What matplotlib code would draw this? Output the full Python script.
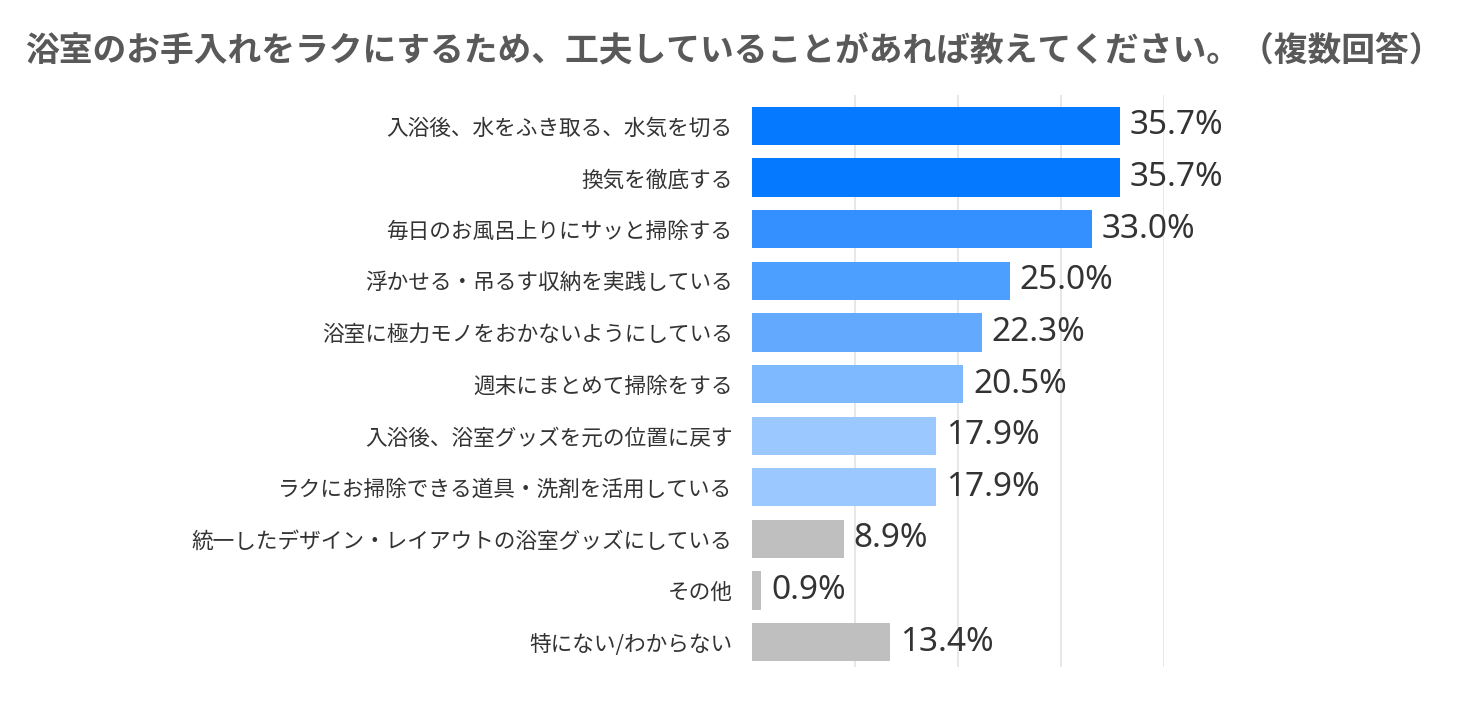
import matplotlib
matplotlib.use("Agg")
import matplotlib.pyplot as plt

plt.rcParams['font.family'] = ['Noto Sans CJK JP', 'DejaVu Sans']

# 回答項目と割合(%)
labels = [
    "入浴後、水をふき取る、水気を切る",
    "換気を徹底する",
    "毎日のお風呂上りにサッと掃除する",
    "浮かせる・吊るす収納を実践している",
    "浴室に極力モノをおかないようにしている",
    "週末にまとめて掃除をする",
    "入浴後、浴室グッズを元の位置に戻す",
    "ラクにお掃除できる道具・洗剤を活用している",
    "統一したデザイン・レイアウトの浴室グッズにしている",
    "その他",
    "特にない/わからない",
]
values = [35.7, 35.7, 33.0, 25.0, 22.3, 20.5, 17.9, 17.9, 8.9, 0.9, 13.4]
colors = ["#0579FF", "#0579FF", "#3490FF", "#4C9EFF", "#63AAFF", "#7EB9FF",
          "#9AC8FF", "#9AC8FF", "#BFBFBF", "#BFBFBF", "#BFBFBF"]
title = "浴室のお手入れをラクにするため、工夫していることがあれば教えてください。（複数回答）"

fig = plt.figure(figsize=(14.7, 7.16), dpi=100)
ax = fig.add_axes([752 / 1470, 1 - 667 / 716, (1164 - 752) / 1470, (667 - 95) / 716])

y = list(range(len(labels)))
ax.barh(y, values, height=0.74, color=colors, zorder=2)
for yi, v in zip(y, values):
    ax.text(v + 0.95, yi, f"{v:.1f}%", va="center", ha="left", fontsize=24,
            color="#333333", family=["Noto Sans", "DejaVu Sans"])

ax.set_xlim(0, 40)
ax.set_ylim(10.48, -0.6)
ax.set_xticks([10, 20, 30, 40])
ax.xaxis.grid(True, color="#E3E3E3", linewidth=1.2, zorder=0)
ax.tick_params(axis="x", length=0, labelbottom=False)
ax.set_yticks(y)
ax.set_yticklabels(labels, fontsize=15.6, color="#333333")
ax.tick_params(axis="y", length=0, pad=14)
for s in ax.spines.values():
    s.set_visible(False)

fig.text(25 / 1470, 1 - 50 / 716, title, fontsize=24.3, fontweight="bold",
         color="#595959", va="center", ha="left")

fig.savefig("out.png", dpi=100)
